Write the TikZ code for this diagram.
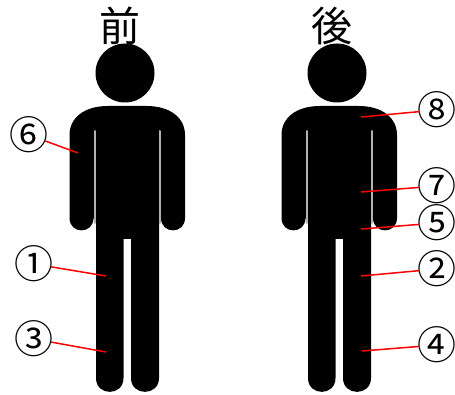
\documentclass[tikz,border=0pt]{standalone}
\usepackage{fontspec}
\newfontfamily\cjk{Noto Sans CJK JP}
\newcommand{\ringed}[1]{\makebox[0pt]{\raisebox{-0.38em}[0pt][0pt]{#1}}}
\tikzset{
  x=1pt,y=-1pt,
  person/.pic={
    \fill[black] (125,73) circle[radius=29.5];
    \fill[black] (69.5,218) -- (69.5,135)
      .. controls (69.5,118) and (84,106) .. (108,106)
      -- (146.5,106)
      .. controls (170.5,106) and (185,118) .. (185,135)
      -- (185,218)
      .. controls (185,234.5) and (161,234.5) .. (161,218)
      -- (159,222) -- (159,378)
      .. controls (159,396.5) and (131,396.5) .. (131,378)
      -- (131,239) -- (123.5,239) -- (123.5,378)
      .. controls (123.5,396.5) and (96,396.5) .. (96,378)
      -- (96,222) -- (93.5,218)
      .. controls (93.5,234.5) and (69.5,234.5) .. (69.5,218) -- cycle;
    \draw[gaplines] (95,131) -- (95,223);
    \draw[gaplines] (160,131) -- (160,223);
  },
  gaplines/.style={draw=black!30,line width=2pt,line cap=round},
  title/.style={font=\cjk\fontsize{41}{41}\selectfont,inner sep=0pt},
  num/.style={circle,minimum size=34pt,inner sep=0pt,font=\cjk\fontsize{39}{39}\selectfont,text=black},
  lead/.style={draw=red,line width=1.5pt},
}
\begin{document}
\begin{tikzpicture}
\useasboundingbox (0,0) rectangle (455,395);
\fill[white] (0,0) rectangle (455,395);
\pic at (0,0) {person};
\pic at (212,0) {person};
\node[title] (front) at (120,26) {前};
\node[title] (back) at (331.5,26) {後};
\node[num] (n6) at (29,135) {\ringed{⑥}};
\node[num] (n1) at (34,264) {\ringed{①}};
\node[num] (n3) at (34,339) {\ringed{③}};
\node[num] (n8) at (437,110) {\ringed{⑧}};
\node[num] (n7) at (437,186) {\ringed{⑦}};
\node[num] (n5) at (437,223) {\ringed{⑤}};
\node[num] (n2) at (437,269) {\ringed{②}};
\node[num] (n4) at (437,345) {\ringed{④}};
\coordinate (c6) at (78,153);
\coordinate (c1) at (106,276);
\coordinate (c3) at (106,352);
\coordinate (c8) at (361,117);
\coordinate (c7) at (361,192);
\coordinate (c5) at (361,229);
\coordinate (c2) at (361,276);
\coordinate (c4) at (362,351);
\foreach \k in {6,1,3,8,7,5,2,4}{\draw[lead] (n\k) -- (c\k);}
\end{tikzpicture}
\end{document}
